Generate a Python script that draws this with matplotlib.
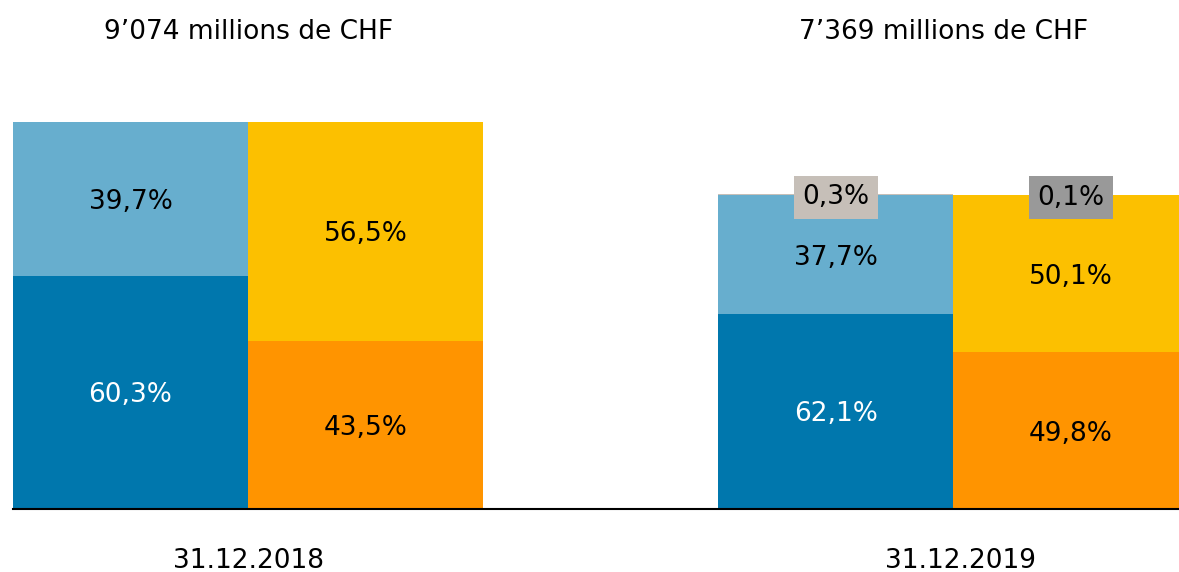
import matplotlib.pyplot as plt

dates = ["31.12.2018", "31.12.2019"]
totals = [9074, 7369]
total_labels = ["9’074 millions de CHF", "7’369 millions de CHF"]

# left bar of each group (bottom -> top)
left_pct = [[60.3, 39.7, 0.0], [62.1, 37.7, 0.3]]
left_colors = ["#0077AD", "#67AECE", "#C6BFB8"]
left_text = ["white", "black", "black"]
# right bar of each group (bottom -> top)
right_pct = [[43.5, 56.5, 0.0], [49.8, 50.1, 0.1]]
right_colors = ["#FF9400", "#FCC000", "#999999"]
right_text = ["black", "black", "black"]

fig = plt.figure(figsize=(11.79, 5.72), dpi=100)
ax = fig.add_axes([13 / 1179, 1 - 509 / 572, 1 - 13 / 1179, 387 / 572])
ax.set_xlim(-1.0, 3.96)
ax.set_ylim(0, 9074)

group_x = [0, 3]
for g, gx in enumerate(group_x):
    bars = [(gx - 0.5, left_pct[g], left_colors, left_text),
            (gx + 0.5, right_pct[g], right_colors, right_text)]
    for bx, pcts, cols, tcols in bars:
        bottom = 0
        for k, p in enumerate(pcts):
            if p == 0:
                continue
            h = totals[g] * p / 100
            ax.bar(bx, h, width=1.0, bottom=bottom, color=cols[k], linewidth=0)
            lab = f"{p:.1f}%".replace(".", ",")
            if k < 2:
                ax.text(bx, bottom + h / 2, lab, ha="center", va="center_baseline",
                        fontsize=19, color=tcols[k])
            else:
                ax.text(bx, bottom + h, lab, ha="center", va="center_baseline", fontsize=19,
                        color="black", bbox=dict(facecolor=cols[k], edgecolor="none", pad=6))
            bottom += h
    ax.text(gx - 0.04 * g, 11250, total_labels[g], ha="center", va="center_baseline",
            fontsize=19, clip_on=False)
    ax.text(gx + 0.03 * g, -1150, dates[g], ha="center", va="center_baseline",
            fontsize=19, clip_on=False)

for s in ["top", "left", "right"]:
    ax.spines[s].set_visible(False)
ax.spines["bottom"].set_linewidth(1.5)
ax.set_xticks([])
ax.set_yticks([])

fig.savefig("out.png", dpi=100)
